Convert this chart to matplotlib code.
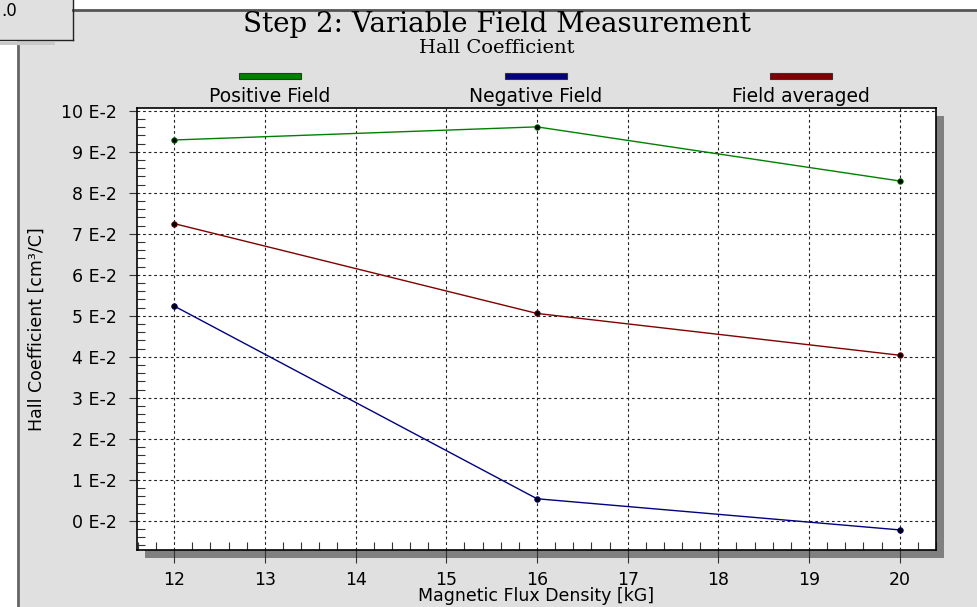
import numpy as np
import matplotlib.pyplot as plt
from matplotlib.patches import Rectangle
from matplotlib.ticker import FuncFormatter, MultipleLocator

# field values in kG, Hall coefficient in units of 1E-2 cm^3/C
field = [12, 16, 20]
positive = [9.29, 9.61, 8.29]
negative = [5.24, 0.54, -0.22]
averaged = [7.25, 5.06, 4.04]

series_names = ['Positive Field', 'Negative Field', 'Field averaged']
series_colors = ['#008000', '#000080', '#800000']

W, H = 977, 607
fig = plt.figure(figsize=(W / 100, H / 100), dpi=100)
fig.patch.set_facecolor('white')

def px(x, y, w, h):
    # pixel box (top-left origin) -> figure fraction
    return (x / W, 1 - (y + h) / H, w / W, h / H)

def add_rect(x, y, w, h, fc, ec='none', lw=0, z=0):
    r = px(x, y, w, h)
    fig.patches.append(Rectangle(r[:2], r[2], r[3], transform=fig.transFigure,
                                 facecolor=fc, edgecolor=ec, lw=lw, zorder=z))

# gray panel with dark frame lines
add_rect(17, 9, W - 17, H - 9, '#e0e0e0')
fig.add_artist(plt.Line2D([73 / W, 1], [1 - 9.5 / H] * 2, transform=fig.transFigure,
                          color='#555555', lw=2))
fig.add_artist(plt.Line2D([18 / W] * 2, [0, 1 - 46 / H], transform=fig.transFigure,
                          color='#666666', lw=2))
# little box in the corner
add_rect(0, 0, 73, 40, '#e0e0e0', z=1)
fig.add_artist(plt.Line2D([73 / W] * 2, [1 - 40 / H, 1], transform=fig.transFigure,
                          color='#222222', lw=1))
fig.add_artist(plt.Line2D([0, 73 / W], [1 - 40 / H] * 2, transform=fig.transFigure,
                          color='#222222', lw=1))
add_rect(0, 42, 55, 3, '#c8c8c8', z=1)
fig.text(1 / W, 1 - 11 / H, '.0', fontsize=12, va='center')

# plot area and its shadow
ax_l, ax_t, ax_r, ax_b = 137, 108, 936, 550
add_rect(ax_l + 8, ax_t + 8, ax_r - ax_l, ax_b - ax_t, '#808080', z=1)
ax = fig.add_axes(px(ax_l, ax_t, ax_r - ax_l, ax_b - ax_t))
ax.set_zorder(3)
ax.set_facecolor('white')

for vals, c in zip([positive, negative, averaged], series_colors):
    ax.plot(field, vals, color=c, lw=1.0, zorder=3)
    ax.plot(field, vals, 'o', color='black', ms=4, mec=c, mew=0.6, zorder=4)

ax.set_xlim(11.59, 20.40)
ax.set_ylim(-0.71, 10.07)
ax.xaxis.set_major_locator(MultipleLocator(1))
ax.xaxis.set_minor_locator(MultipleLocator(0.2))
ax.yaxis.set_major_locator(MultipleLocator(1))
ax.yaxis.set_minor_locator(MultipleLocator(0.2))
ax.yaxis.set_major_formatter(FuncFormatter(lambda v, p: f'{int(round(v))} E-2'))

ax.grid(which='major', color='#222222', linestyle=(0, (2.5, 2.5)), lw=0.8)
ax.tick_params(axis='y', which='major', direction='out', length=6, width=0.8,
               color='#333333', labelsize=12.5, pad=8.5)
ax.tick_params(axis='x', which='major', direction='out', length=9, width=0.8,
               color='#333333', labelsize=12.5, pad=6)
ax.tick_params(which='minor', direction='in', length=5.5, width=0.8, color='#333333')
for sp in ax.spines.values():
    sp.set_color('black')
    sp.set_linewidth(1.2)

ax.set_xlabel('Magnetic Flux Density [kG]', fontsize=12.5, labelpad=-1)
ax.set_ylabel('Hall Coefficient [cm³/C]', fontsize=12.5, labelpad=11)

# titles
fig.text(497 / W, 1 - 24 / H, 'Step 2: Variable Field Measurement', fontsize=20,
         family='DejaVu Serif', ha='center', va='center')
fig.text(497 / W, 1 - 48 / H, 'Hall Coefficient', fontsize=14,
         family='DejaVu Serif', ha='center', va='center')

# legend as in the original: colored bar above each name
centers = [270, 536, 801]
for name, c, cx in zip(series_names, series_colors, centers):
    add_rect(cx - 31, 73, 62, 6, c, ec='#333333', lw=0.8, z=2)
    fig.text(cx / W, 1 - 97 / H, name, fontsize=13.5, ha='center', va='center')

fig.savefig('out.png', dpi=100)
